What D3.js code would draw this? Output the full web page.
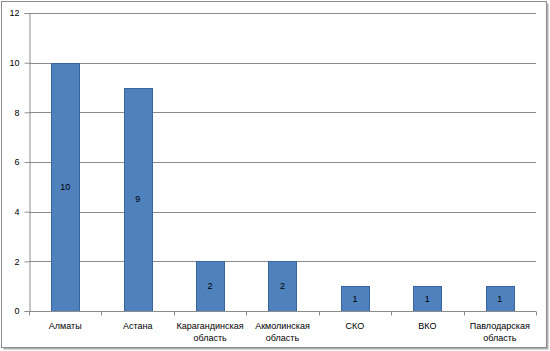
<!DOCTYPE html>
<html>
<head>
<meta charset="utf-8">
<script src="https://cdn.jsdelivr.net/npm/d3@7"></script>
<style>
  body { margin: 0; background: #fff; }
  text { font-family: "Liberation Sans", Arial, sans-serif; font-size: 9px; fill: #000; }
</style>
</head>
<body>
<div id="chart"></div>
<script>
const categories = ["Алматы", "Астана", "Карагандинская область", "Акмолинская область", "СКО", "ВКО", "Павлодарская область"];
const values = [10, 9, 2, 2, 1, 1, 1];
const yTicks = [0, 2, 4, 6, 8, 10, 12];

const W = 550, H = 351;
const margin = { top: 13, right: 14, bottom: 40, left: 29 };
const width = W - margin.left - margin.right;
const height = H - margin.top - margin.bottom;

const root = d3.select("#chart").append("svg")
  .attr("width", W)
  .attr("height", H);

// outer frame with shadow
root.append("rect")
  .attr("x", 3.5).attr("y", 3.5)
  .attr("width", W - 5).attr("height", H - 5)
  .style("fill", "#b0b0b0");
root.append("rect")
  .attr("x", 1.5).attr("y", 1.5)
  .attr("width", W - 5).attr("height", H - 5)
  .style("fill", "#fff")
  .style("stroke", "#8c8c8c");

const svg = root.append("g")
  .attr("transform", `translate(${margin.left},${margin.top})`);

const x = d3.scaleBand()
  .domain(categories)
  .range([0, width])
  .paddingInner(0.61)
  .paddingOuter(0.305);

const y = d3.scaleLinear()
  .domain([0, 12])
  .range([height, 0]);

// gridlines
svg.append("g")
  .selectAll("line")
  .data(yTicks.filter(d => d > 0))
  .enter()
  .append("line")
  .attr("x1", 0)
  .attr("x2", width)
  .attr("y1", d => Math.round(y(d)) + 0.5)
  .attr("y2", d => Math.round(y(d)) + 0.5)
  .style("stroke", "#8c8c8c");

// bars
svg.selectAll(".bar")
  .data(values)
  .enter()
  .append("rect")
  .attr("class", "bar")
  .attr("x", (d, i) => Math.round(x(categories[i])) + 0.5)
  .attr("y", d => Math.round(y(d)) + 0.5)
  .attr("width", Math.round(x.bandwidth()))
  .attr("height", d => Math.round(y(0)) - Math.round(y(d)))
  .style("fill", "#4f81bd")
  .style("stroke", "#3a64a0");

// data labels
svg.selectAll(".lbl")
  .data(values)
  .enter()
  .append("text")
  .attr("x", (d, i) => x(categories[i]) + x.bandwidth() / 2)
  .attr("y", d => (y(d) + y(0)) / 2 + 3)
  .attr("text-anchor", "middle")
  .text(d => d);

// y axis
const yAxis = svg.append("g")
  .attr("transform", "translate(0.5,0)")
  .call(d3.axisLeft(y).tickValues(yTicks).tickSize(5).tickPadding(5));
yAxis.selectAll("path, line").style("stroke", "#8c8c8c");
yAxis.selectAll("text").style("font-family", "'Liberation Sans', Arial, sans-serif").style("font-size", "9px");

// x axis
const xAxis = svg.append("g")
  .attr("transform", `translate(0,${Math.round(height) + 0.5})`);
xAxis.append("line")
  .attr("x1", 0).attr("x2", width)
  .style("stroke", "#8c8c8c");
xAxis.selectAll(".tk")
  .data(d3.range(categories.length + 1))
  .enter()
  .append("line")
  .attr("x1", i => Math.round(i * x.step()) + 0.5)
  .attr("x2", i => Math.round(i * x.step()) + 0.5)
  .attr("y1", 0).attr("y2", 4)
  .style("stroke", "#8c8c8c");

xAxis.selectAll(".cat")
  .data(categories)
  .enter()
  .append("text")
  .attr("text-anchor", "middle")
  .attr("transform", d => `translate(${x(d) + x.bandwidth() / 2},0)`)
  .each(function (d) {
    const words = d.split(" ");
    d3.select(this).selectAll("tspan")
      .data(words)
      .enter()
      .append("tspan")
      .attr("x", 0)
      .attr("y", (w, i) => 17 + i * 12)
      .text(w => w);
  });
</script>
</body>
</html>
